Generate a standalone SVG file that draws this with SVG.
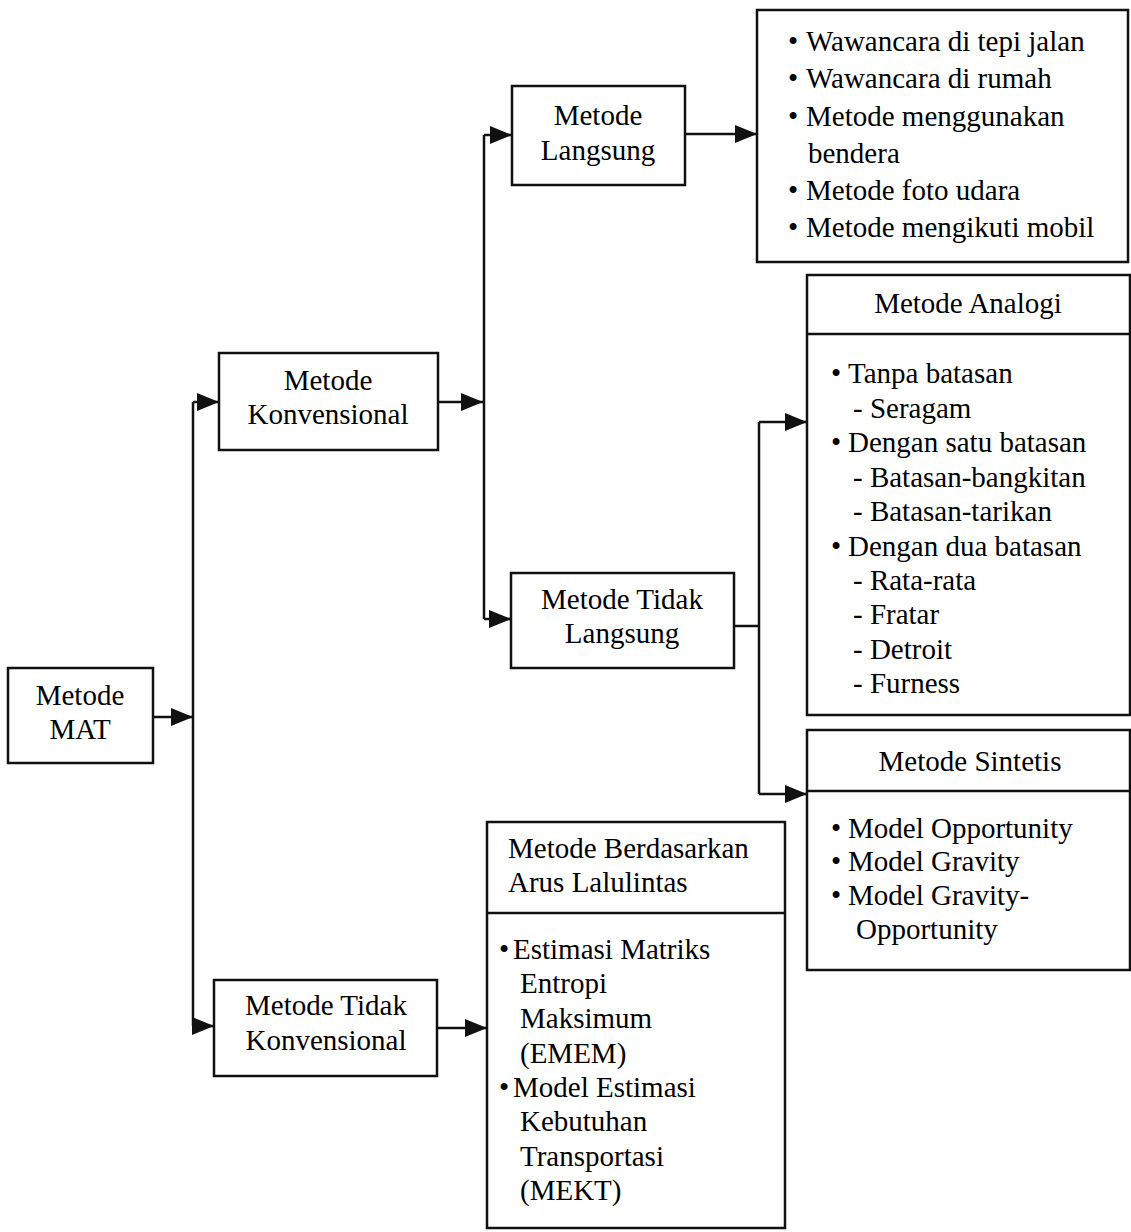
<svg xmlns="http://www.w3.org/2000/svg" width="1131" height="1232" viewBox="0 0 1131 1232">
<style>
  .box { fill: #ffffff; stroke: #111111; stroke-width: 2.5; }
  .ln { fill: none; stroke: #111111; stroke-width: 2.5; }
  .arr { fill: none; stroke: #111111; stroke-width: 2.5; marker-end: url(#ah); }
  text { font-family: "Liberation Serif", "Times New Roman", serif; font-size: 29px; fill: #000000; }
  .c { text-anchor: middle; }
</style>
<defs>
  <marker id="ah" markerUnits="userSpaceOnUse" markerWidth="24" markerHeight="20" refX="22" refY="9" orient="auto">
    <path d="M0,0 L22,9 L0,18 Z" fill="#111111"/>
  </marker>
</defs>
<rect width="1131" height="1232" fill="#ffffff"/>

<g id="connectors">
  <path class="arr" d="M153,717 L193,717"/>
  <path class="ln" d="M193,402 L193,1026"/>
  <path class="arr" d="M193,402 L219,402"/>
  <path class="arr" d="M193,1026 L214,1026"/>
  <path class="arr" d="M438,402 L483,402"/>
  <path class="ln" d="M484,135 L484,619"/>
  <path class="arr" d="M484,135 L512,135"/>
  <path class="arr" d="M484,619 L511,619"/>
  <path class="arr" d="M685,134 L757,134"/>
  <path class="ln" d="M734,626 L759,626"/>
  <path class="ln" d="M759,422 L759,794"/>
  <path class="arr" d="M759,422 L807,422"/>
  <path class="arr" d="M759,794 L807,794"/>
  <path class="arr" d="M437,1028 L487,1028"/>
</g>

<g id="n-mat">
  <rect class="box" x="8" y="668" width="145" height="95"/>
  <text class="c" x="80" y="705">Metode</text>
  <text class="c" x="80" y="739">MAT</text>
</g>

<g id="n-konvensional">
  <rect class="box" x="219" y="353" width="219" height="97"/>
  <text class="c" x="328" y="390">Metode</text>
  <text class="c" x="328" y="424">Konvensional</text>
</g>

<g id="n-langsung">
  <rect class="box" x="512" y="86" width="173" height="99"/>
  <text class="c" x="598" y="125">Metode</text>
  <text class="c" x="598" y="160">Langsung</text>
</g>

<g id="n-langsung-list">
  <rect class="box" x="757" y="10" width="371" height="252"/>
  <text x="788" y="51">•</text><text x="806" y="51">Wawancara di tepi jalan</text>
  <text x="788" y="88">•</text><text x="806" y="88">Wawancara di rumah</text>
  <text x="788" y="126">•</text><text x="806" y="126">Metode menggunakan</text>
  <text x="808" y="163">bendera</text>
  <text x="788" y="200">•</text><text x="806" y="200">Metode foto udara</text>
  <text x="788" y="237">•</text><text x="806" y="237">Metode mengikuti mobil</text>
</g>

<g id="n-tidak-langsung">
  <rect class="box" x="511" y="573" width="223" height="95"/>
  <text class="c" x="622" y="609">Metode Tidak</text>
  <text class="c" x="622" y="643">Langsung</text>
</g>

<g id="n-analogi">
  <rect class="box" x="807" y="275" width="323" height="440"/>
  <line class="ln" x1="807" y1="334" x2="1130" y2="334"/>
  <text class="c" x="968" y="313">Metode Analogi</text>
  <text x="831" y="383">•</text><text x="848" y="383">Tanpa batasan</text>
  <text x="853" y="418">- Seragam</text>
  <text x="831" y="452">•</text><text x="848" y="452">Dengan satu batasan</text>
  <text x="853" y="487">- Batasan-bangkitan</text>
  <text x="853" y="521">- Batasan-tarikan</text>
  <text x="831" y="556">•</text><text x="848" y="556">Dengan dua batasan</text>
  <text x="853" y="590">- Rata-rata</text>
  <text x="853" y="624">- Fratar</text>
  <text x="853" y="659">- Detroit</text>
  <text x="853" y="693">- Furness</text>
</g>

<g id="n-sintetis">
  <rect class="box" x="807" y="730" width="323" height="240"/>
  <line class="ln" x1="807" y1="791" x2="1130" y2="791"/>
  <text class="c" x="970" y="771">Metode Sintetis</text>
  <text x="831" y="838">•</text><text x="848" y="838">Model Opportunity</text>
  <text x="831" y="871">•</text><text x="848" y="871">Model Gravity</text>
  <text x="831" y="905">•</text><text x="848" y="905">Model Gravity-</text>
  <text x="856" y="939">Opportunity</text>
</g>

<g id="n-tidak-konvensional">
  <rect class="box" x="214" y="980" width="223" height="96"/>
  <text class="c" x="326" y="1015">Metode Tidak</text>
  <text class="c" x="326" y="1050">Konvensional</text>
</g>

<g id="n-berdasarkan">
  <rect class="box" x="487" y="822" width="298" height="406"/>
  <line class="ln" x1="487" y1="913" x2="785" y2="913"/>
  <text x="508" y="858">Metode Berdasarkan</text>
  <text x="508" y="892">Arus Lalulintas</text>
  <text x="499" y="959">•</text><text x="513" y="959">Estimasi Matriks</text>
  <text x="520" y="993">Entropi</text>
  <text x="520" y="1028">Maksimum</text>
  <text x="520" y="1063">(EMEM)</text>
  <text x="499" y="1097">•</text><text x="513" y="1097">Model Estimasi</text>
  <text x="520" y="1131">Kebutuhan</text>
  <text x="520" y="1166">Transportasi</text>
  <text x="520" y="1200">(MEKT)</text>
</g>
</svg>
